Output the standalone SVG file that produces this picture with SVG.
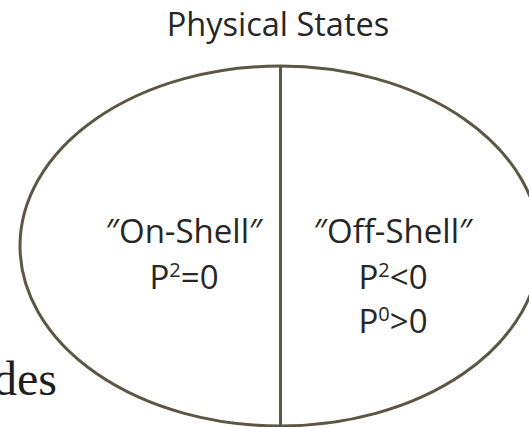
<svg xmlns="http://www.w3.org/2000/svg" width="529" height="427" viewBox="0 0 529 427">
<style>
.t{font-family:"Open Sans","Liberation Sans",sans-serif;font-size:33px;fill:#262626;text-anchor:middle}
.sup{font-size:20px}
.shape{fill:none;stroke:#5c5742;stroke-width:3}
</style>
<rect width="529" height="427" fill="#ffffff"/>
<g id="title"><text class="t" x="278" y="36" style="font-size:32.5px">Physical States</text></g>
<g id="ellipse"><ellipse class="shape" cx="280" cy="246" rx="260" ry="180"/></g>
<g id="connectors"><line class="shape" x1="280.5" y1="66" x2="280.5" y2="427"/></g>
<g id="on-shell">
<text class="t" x="184" y="243">″On-Shell″</text>
<text class="t" x="184" y="289">P<tspan class="sup" dy="-12">2</tspan><tspan dy="12">=0</tspan></text>
</g>
<g id="off-shell">
<text class="t" x="393" y="243">″Off-Shell″</text>
<text class="t" x="393" y="289">P<tspan class="sup" dy="-12">2</tspan><tspan dy="12">&lt;0</tspan></text>
<text class="t" x="393" y="333">P<tspan class="sup" dy="-12">0</tspan><tspan dy="12">&gt;0</tspan></text>
</g>
<text x="57" y="395" style="font-family:'Liberation Serif',serif;font-size:48px;fill:#1e1e1e;text-anchor:end">des</text>
</svg>
